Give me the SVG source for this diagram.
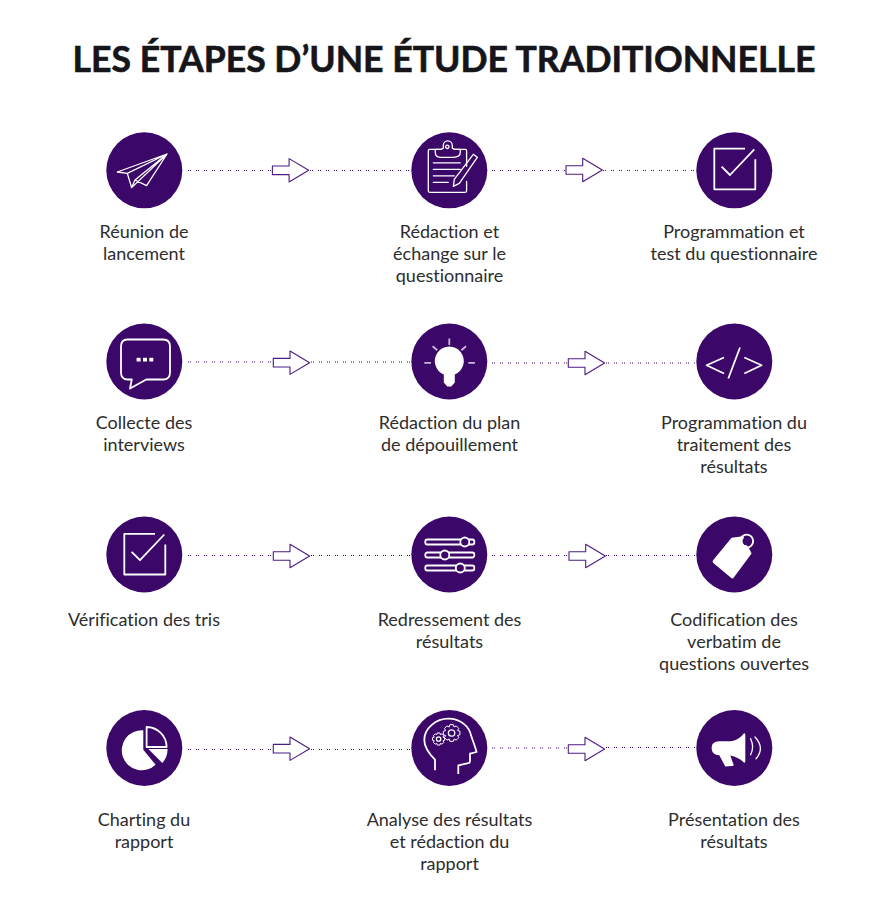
<svg xmlns="http://www.w3.org/2000/svg" width="888" height="900" viewBox="0 0 888 900">
<defs>
<style>
.bg{fill:#fff}
.c{fill:#3b0869}
.t{font-family:Lato,"Liberation Sans",sans-serif;font-size:18px;fill:#2d2d2d;text-anchor:middle;font-variant-ligatures:none}
.title{font-family:Lato,"Liberation Sans",sans-serif;font-size:35.6px;font-weight:700;fill:#15151a;stroke:#15151a;stroke-width:.6;text-anchor:middle}
.i{fill:none;stroke:#fff;stroke-width:1.3;stroke-linejoin:round;stroke-linecap:round}
.i2{fill:none;stroke:#fff;stroke-width:1.8;stroke-linejoin:round}
.f{fill:#fff;stroke:none}
.dot{fill:none;stroke:#3b0869;stroke-width:1;stroke-dasharray:1 1 1 5}
.arrow{fill:#fff;stroke:#4b1d85;stroke-width:1.1;stroke-linejoin:round}
.g{fill:none;stroke:#fff;stroke-width:1;stroke-linejoin:round;vector-effect:non-scaling-stroke}
</style>
<path id="ar" d="M0,-4.3H16.7V-11.7L36.3,0L16.7,11.7V4.3H0Z"/>
<g id="check"><path class="i2" d="M10.700,-21.700H-20V19H21V-11"/><path class="i2" d="M-12.700,-3.700L-4.300,4.700L20,-21"/></g>
<polygon id="gear" class="g" points=".978,-.208 .978,.208 .702,.291 .839,.544 .544,.839 .291,.702 .208,.978 -.208,.978 -.291,.702 -.544,.839 -.839,.544 -.702,.291 -.978,.208 -.978,-.208 -.702,-.291 -.839,-.544 -.544,-.839 -.291,-.702 -.208,-.978 .208,-.978 .291,-.702 .544,-.839 .839,-.544 .702,-.291"/>
</defs>
<rect class="bg" width="888" height="900"/>
<text class="title" x="444" y="72">LES ÉTAPES D’UNE ÉTUDE TRADITIONNELLE</text>
<g id="connectors">
<path class="dot" d="M188,170.500H272M310,170.500H411"/>
<path class="dot" d="M492,170.500H566M603,170.500H696"/>
<path class="dot" d="M188,362H273M311,362H411"/>
<path class="dot" d="M492,363H568M606,363H696"/>
<path class="dot" d="M188,555.500H273M311,555.500H411"/>
<path class="dot" d="M492,555.500H569M606,555.500H696"/>
<path class="dot" d="M188,749.500H273M311,749.500H411"/>
<path class="dot" d="M492,748H568M606,747.500H696"/>
<use class="arrow" href="#ar" x="272.4" y="170.3"/>
<use class="arrow" href="#ar" x="566" y="170"/>
<use class="arrow" href="#ar" x="273.3" y="362.7"/>
<use class="arrow" href="#ar" x="568.3" y="363"/>
<use class="arrow" href="#ar" x="273.3" y="556"/>
<use class="arrow" href="#ar" x="569" y="556"/>
<use class="arrow" href="#ar" x="273.3" y="748.7"/>
<use class="arrow" href="#ar" x="568.3" y="749"/>
</g>
<g id="n1"><circle class="c" cx="144.3" cy="170.3" r="38"/>
<g transform="translate(144.3 170.3)"><path class="i" d="M22.7,-16.3L-27,1.7L-17,3L22.7,-16.3L-12.7,17.3L-17,3M22.7,-16.3L-9.3,9.7L2.3,15.3ZM-9.3,9.7L-12.7,17.3"/></g>
<text class="t" x="144" y="237.500">Réunion de</text><text class="t" x="144" y="259.500">lancement</text></g>
<g id="n2"><circle class="c" cx="449.3" cy="170.3" r="38"/>
<g transform="translate(449.3 170.3)"><path class="i" d="M-8,-21H-19.5Q-21,-21 -21,-19.5V20.5Q-21,22 -19.5,22H16Q17.3,22 17.3,20.5V11M17.3,-4V-19.5Q17.3,-21 16,-21H5"/><path class="i" d="M-14,-21V-18Q-14,-13 -9,-13H4Q11,-13 11,-18V-21H5Q4,-22 3,-22V-25A4.500,4.500 0 0 0 -6,-25V-22Q-7,-22 -8,-21Z"/><circle class="i" cx="-2" cy="-23.500" r="1.700"/><path class="i" d="M-16,-7.500H11M-16,-1H11M-16,5.500H5M-16,12H-1"/><path class="i" d="M5,9L24,-16L28,-13L10,13L4,16Z"/></g>
<text class="t" x="449.500" y="237.500">Rédaction et</text><text class="t" x="449.500" y="259.500">échange sur le</text><text class="t" x="449.500" y="281.500">questionnaire</text></g>
<g id="n3"><circle class="c" cx="734.300" cy="170.300" r="38"/>
<use href="#check" x="734.300" y="170.300"/>
<text class="t" x="734" y="237.500">Programmation et</text><text class="t" x="734" y="259.500">test du questionnaire</text></g>
<g id="n4"><circle class="c" cx="144.300" cy="361.500" r="38"/>
<g transform="translate(144.300 361.500)"><path class="i2" d="M-17,-22H19Q25.700,-22 25.700,-15V11Q25.700,18 19,18H2L-14.300,27L-12.500,18H-16.500Q-23.300,18 -23.300,11V-15Q-23.300,-22 -17,-22Z"/><rect class="f" x="-7.700" y="-3.700" width="4" height="3.700"/><rect class="f" x="-1.300" y="-3.700" width="4" height="3.700"/><rect class="f" x="5" y="-3.700" width="4" height="3.700"/></g>
<text class="t" x="144" y="428.500">Collecte des</text><text class="t" x="144" y="450.500">interviews</text></g>
<g id="n5"><circle class="c" cx="449.300" cy="361.500" r="38"/>
<g transform="translate(449.300 361.500)"><path class="f" d="M-5.500,13A14.500,14.500 0 1 1 5.500,13V21L2,25H-2L-5.500,21Z"/><path stroke="#c9b6dc" stroke-width="1.800" fill="none" d="M0,-23V-16.500M-16.700,-15.300L-12,-11.300M16.700,-15.300L12,-11.300M-25,1.300H-18.300M19,1.300H25.600"/></g>
<text class="t" x="449.500" y="428.500">Rédaction du plan</text><text class="t" x="449.500" y="450.500">de dépouillement</text></g>
<g id="n6"><circle class="c" cx="734.300" cy="361.500" r="38"/>
<g transform="translate(734.300 361.500)"><path class="i2" d="M-10.300,-4L-27.700,3.700L-10.300,12M10,-4L27.300,3.700L10,12M5.700,-14L-6,17"/></g>
<text class="t" x="734" y="428.500">Programmation du</text><text class="t" x="734" y="450.500">traitement des</text><text class="t" x="734" y="472.500">résultats</text></g>
<g id="n7"><circle class="c" cx="144.300" cy="554.500" r="38"/>
<use href="#check" x="144.300" y="555.500"/>
<text class="t" x="144" y="625.500">Vérification des tris</text></g>
<g id="n8"><circle class="c" cx="449.300" cy="554.500" r="38"/>
<g transform="translate(449.300 554.500)" class="i2"><rect x="-24" y="-15" width="49" height="5" rx="2"/><rect x="-24" y="-2" width="49" height="5" rx="2"/><rect x="-24" y="11" width="49" height="5" rx="2"/><circle cx="15.500" cy="-12.500" r="4.500" fill="#3b0869"/><circle cx="-4.500" cy="0.500" r="4.500" fill="#3b0869"/><circle cx="11" cy="13.500" r="4.500" fill="#3b0869"/></g>
<text class="t" x="449.500" y="625.500">Redressement des</text><text class="t" x="449.500" y="647.500">résultats</text></g>
<g id="n9"><circle class="c" cx="734.300" cy="554.500" r="38"/>
<g transform="translate(734.300 554.500)"><path class="f" d="M-2.700,-16.700L9,-18.300L17.300,-1L-0.500,23Q-1.700,24.500 -3,23.500L-21,8.500Q-22.500,7 -21,5.500Z"/><circle cx="13.300" cy="-13.300" r="5" fill="#3b0869"/><path class="f" d="M8,-10L13,-9L10,-4L6,-6Z"/><path class="i2" stroke-linecap="round" d="M8,-8.500A6.500,6.500 0 1 1 11,-7"/></g>
<text class="t" x="734" y="625.500">Codification des</text><text class="t" x="734" y="647.500">verbatim de</text><text class="t" x="734" y="669.500">questions ouvertes</text></g>
<g id="n10"><circle class="c" cx="144.300" cy="748" r="38"/>
<g transform="translate(144.300 748)"><path class="f" d="M-1,-17.700A20,20 0 1 0 11.300,16.700L-1,1.700Z"/><path class="i2" d="M2.300,-21A20,20 0 0 1 22.300,-1H2.300Z"/><path class="f" d="M4,1H23.300Q23.300,9 18,15Z"/></g>
<text class="t" x="144" y="825.500">Charting du</text><text class="t" x="144" y="847.500">rapport</text></g>
<g id="n11"><circle class="c" cx="449.300" cy="748" r="38"/>
<g transform="translate(449.300 748)"><path class="i2" d="M-14.300,22.300V11.700C-20,6 -25,0 -25,-8C-25,-20 -13,-29.300 -1,-29.300C11,-29.300 20,-22 22,-11.700C24,-6 26,-1 27.300,4L20.700,5.700V13Q20.700,15 19,15.200L9,17.300V26"/><use href="#gear" transform="translate(2.300 -15) scale(8.500)"/><circle class="i" cx="2.300" cy="-15" r="3.200" stroke-width="1"/><use href="#gear" transform="translate(-10.700 -9) scale(6.200)"/><circle class="i" cx="-10.700" cy="-9" r="2.200" stroke-width="1"/></g>
<text class="t" x="449.500" y="825.500">Analyse des résultats</text><text class="t" x="449.500" y="847.500">et rédaction du</text><text class="t" x="449.500" y="869.500">rapport</text></g>
<g id="n12"><circle class="c" cx="734.300" cy="748" r="38"/>
<g transform="translate(734.300 748)"><path class="f" d="M-22.700,0Q-22.700,-6.700 -15,-6.700H-4C1,-7 6,-10 9,-14Q11,-16 11,-13V13Q11,16 9,14C6,11 1,8.500 -4,7.500L-1,16Q0,18 -2,18L-9,18.500L-15,7.300Q-22.700,7 -22.700,0Z"/><path class="i" d="M16.300,-9.300Q20.300,-1 16.300,6.700M20.700,-11Q31,0 21.700,10.700"/></g>
<text class="t" x="734" y="825.500">Présentation des</text><text class="t" x="734" y="847.500">résultats</text></g>
</svg>
